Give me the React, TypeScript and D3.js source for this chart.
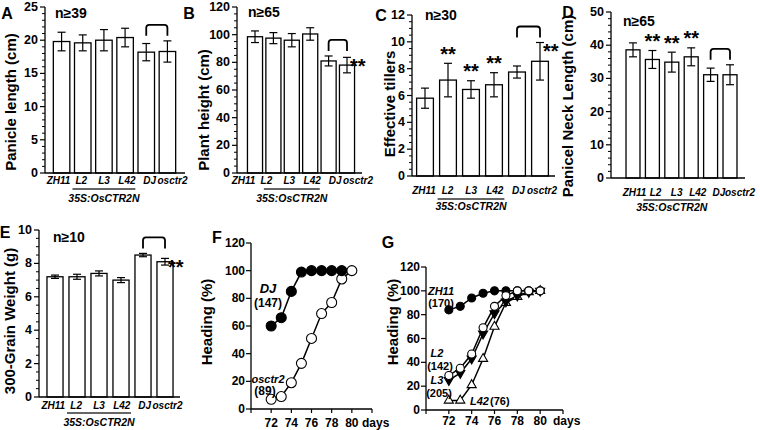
import React from "react";
import * as d3 from "d3";

// ---------------- DATA ----------------
const categories = ["ZH11", "L2", "L3", "L42", "DJ", "osctr2"];
const constructLabel = "35S:OsCTR2N";

const panicleLength = [19.8, 19.6, 20.0, 20.4, 18.2, 18.3];
const panicleLengthSd = [1.4, 1.2, 1.6, 1.4, 1.3, 1.6];
const plantHeight = [98.5, 97.5, 96.0, 100.5, 81.0, 78.0];
const plantHeightSd = [4.2, 4.0, 4.8, 4.5, 3.6, 5.6];
const effectiveTillers = [5.8, 7.15, 6.45, 6.8, 7.75, 8.55];
const effectiveTillersSd = [0.75, 1.25, 0.65, 0.9, 0.45, 1.4];
const neckLength = [38.6, 35.7, 34.9, 36.5, 31.1, 31.1];
const neckLengthSd = [2.1, 2.7, 3.0, 2.7, 2.0, 3.0];
const grainWeight = [7.2, 7.2, 7.4, 7.0, 8.5, 8.1];
const grainWeightSd = [0.1, 0.15, 0.15, 0.15, 0.1, 0.2];

const headingDaysF_DJ = [72, 73, 74, 75, 76, 77, 78, 79];
const headingDJ = [60, 66, 85, 99, 100, 100, 100, 100];
const headingDays = [72, 73, 74, 75, 76, 77, 78, 79, 80];
const headingOsctr2 = [7, 9, 19, 33, 51, 69, 77, 94, 100];
const headingZH11 = [84, 87, 94, 98, 100, 100, 100, 100, 100];
const headingL2 = [29, 35, 47, 69, 87, 96, 100, 100, 100];
const headingL3 = [25, 31, 43, 64, 81, 91, 96, 99, 100];
const headingL42 = [8, 8, 21, 43, 70, 90, 95, 99, 100];
const dayTicks = [72, 74, 76, 78, 80];
const dayMinorTicks = [70, 72, 74, 76, 78, 80, 82];
const headingTicks = [0, 20, 40, 60, 80, 100, 120];

// ---------------- LAYOUT ----------------
const FONT = "'Liberation Sans', Arial, Helvetica, sans-serif";

type BarCfg = {
  letter: string; letterPos: [number, number];
  title: string; titlePos: [number, number];
  n: string; nPos: [number, number];
  values: number[]; errs: number[];
  yMax: number; major: number; minor: number;
  axisX: number; axisEnd: number; band: [number, number]; pad: number;
  labelSpan: [number, number];
  yTop: number; yBot: number;
  labelY: number; underlineY: number; groupY: number;
  starsAbove: string[]; starsSide: string[];
};

const panels: BarCfg[] = [
  {
    letter: "A", letterPos: [7, 13], title: "Panicle length (cm)", titlePos: [10, 102],
    n: "n≥39", nPos: [55, 13], values: panicleLength, errs: panicleLengthSd,
    yMax: 25, major: 5, minor: 1, axisX: 45, axisEnd: 185, band: [51, 178], pad: 0.22,
    labelSpan: [58.5, 172.5],
    yTop: 7, yBot: 173, labelY: 180, underlineY: 189, groupY: 198,
    starsAbove: [], starsSide: [],
  },
  {
    letter: "B", letterPos: [189, 13], title: "Plant height (cm)", titlePos: [203, 110],
    n: "n≥65", nPos: [248, 12], values: plantHeight, errs: plantHeightSd,
    yMax: 120, major: 20, minor: 5, axisX: 237, axisEnd: 362, band: [245.8, 356.2], pad: 0.18,
    labelSpan: [243.5, 358],
    yTop: 7, yBot: 173, labelY: 180, underlineY: 189, groupY: 198,
    starsAbove: [], starsSide: ["osctr2"],
  },
  {
    letter: "C", letterPos: [381, 15], title: "Effective tillers", titlePos: [389, 104],
    n: "n≥30", nPos: [425, 15], values: effectiveTillers, errs: effectiveTillersSd,
    yMax: 12, major: 2, minor: 0.5, axisX: 412, axisEnd: 555, band: [413.5, 551.5], pad: 0.27,
    labelSpan: [424, 542],
    yTop: 15, yBot: 176, labelY: 190, underlineY: 199, groupY: 206,
    starsAbove: ["L2", "L3", "L42"], starsSide: ["osctr2"],
  },
  {
    letter: "D", letterPos: [568, 12], title: "Panicel Neck Length (cm)", titlePos: [567, 106],
    n: "n≥65", nPos: [623, 21], values: neckLength, errs: neckLengthSd,
    yMax: 50, major: 10, minor: 2, axisX: 611, axisEnd: 745, band: [623.3, 739.7], pad: 0.28,
    labelSpan: [634.5, 740],
    yTop: 12, yBot: 178, labelY: 192, underlineY: 200, groupY: 207,
    starsAbove: ["L2", "L3", "L42"], starsSide: [],
  },
  {
    letter: "E", letterPos: [5, 232], title: "300-Grain Weight (g)", titlePos: [9, 321],
    n: "n≥10", nPos: [53, 237], values: grainWeight, errs: grainWeightSd,
    yMax: 10, major: 2, minor: 0.5, axisX: 39, axisEnd: 180, band: [44, 176], pad: 0.27,
    labelSpan: [53.3, 167.5],
    yTop: 230, yBot: 397, labelY: 405.5, underlineY: 413, groupY: 421.5,
    starsAbove: [], starsSide: ["osctr2"],
  },
];

const STAR_FS = 20;

function BarPanel({ cfg }: { cfg: BarCfg }) {
  const y = d3.scaleLinear().domain([0, cfg.yMax]).range([cfg.yBot, cfg.yTop]);
  const x = d3.scaleBand<string>().domain(categories).range(cfg.band)
    .paddingInner(cfg.pad).paddingOuter(cfg.pad / 2);
  const lx = d3.scalePoint<string>().domain(categories).range(cfg.labelSpan);
  const bw = x.bandwidth();
  const cx = (c: string) => (x(c) as number) + bw / 2;
  const majors = d3.range(0, cfg.yMax + 1e-9, cfg.major);
  const minors = d3.range(0, cfg.yMax + 1e-9, cfg.minor)
    .filter((v) => Math.abs(v / cfg.major - Math.round(v / cfg.major)) > 1e-6);
  const errTop = (i: number) => y(cfg.values[i] + cfg.errs[i]);
  const iDJ = categories.indexOf("DJ");
  const iOs = categories.indexOf("osctr2");
  const legBottom = Math.min(errTop(iDJ), errTop(iOs)) - 5;
  const bTop = legBottom - 11;
  const x1 = cx("DJ"), x2 = cx("osctr2"), r = 3;
  const bracket = `M${x1},${legBottom} V${bTop + r} Q${x1},${bTop} ${x1 + r},${bTop} H${x2 - r} Q${x2},${bTop} ${x2},${bTop + r} V${legBottom}`;
  const ulStart = (x("L2") as number) - 2;
  const ulEnd = (x("L42") as number) + bw + 2;
  const capW = 4;
  return (
    <g>
      <text x={cfg.letterPos[0]} y={cfg.letterPos[1]} fontSize={16} fontWeight="bold" textAnchor="middle" dominantBaseline="central">{cfg.letter}</text>
      <text transform={`translate(${cfg.titlePos[0]},${cfg.titlePos[1]}) rotate(-90)`} fontSize={15} fontWeight="bold" textAnchor="middle" dominantBaseline="central">{cfg.title}</text>
      <text x={cfg.nPos[0]} y={cfg.nPos[1]} fontSize={14} fontWeight="bold" dominantBaseline="central">{cfg.n}</text>
      {categories.map((c, i) => (
        <rect key={c} x={x(c)} y={y(cfg.values[i])} width={bw} height={cfg.yBot - y(cfg.values[i])}
          fill="#fff" stroke="#000" strokeWidth={1.3} />
      ))}
      {categories.map((c, i) => {
        const t = y(cfg.values[i] + cfg.errs[i]);
        const b = y(cfg.values[i] - cfg.errs[i]);
        const m = cx(c);
        return (
          <g key={"e" + c} stroke="#000" strokeWidth={1.2}>
            <line x1={m} x2={m} y1={t} y2={b} />
            <line x1={m - capW} x2={m + capW} y1={t} y2={t} />
            <line x1={m - capW} x2={m + capW} y1={b} y2={b} />
          </g>
        );
      })}
      <line x1={cfg.axisX} x2={cfg.axisX} y1={cfg.yBot} y2={cfg.yTop} stroke="#000" strokeWidth={1.3} />
      <line x1={cfg.axisX} x2={cfg.axisEnd} y1={cfg.yBot} y2={cfg.yBot} stroke="#000" strokeWidth={1.3} />
      {majors.map((v) => (
        <g key={"M" + v}>
          <line x1={cfg.axisX - 5} x2={cfg.axisX} y1={y(v)} y2={y(v)} stroke="#000" strokeWidth={1.2} />
          <text x={cfg.axisX - 7} y={y(v)} fontSize={12.5} fontWeight="bold" textAnchor="end" dominantBaseline="central">{v}</text>
        </g>
      ))}
      {minors.map((v) => (
        <line key={"m" + v} x1={cfg.axisX - 3} x2={cfg.axisX} y1={y(v)} y2={y(v)} stroke="#000" strokeWidth={1} />
      ))}
      {categories.map((c) => (
        <text key={"l" + c} x={lx(c)} y={cfg.labelY} fontSize={10} fontWeight="bold" fontStyle="italic" textAnchor="middle" dominantBaseline="central">{c}</text>
      ))}
      <line x1={ulStart} x2={ulEnd} y1={cfg.underlineY} y2={cfg.underlineY} stroke="#333" strokeWidth={1.5} />
      <text x={(ulStart + ulEnd) / 2} y={cfg.groupY} fontSize={10.5} fontWeight="bold" fontStyle="italic" textAnchor="middle" dominantBaseline="central">{constructLabel}</text>
      <path d={bracket} fill="none" stroke="#000" strokeWidth={1.8} />
      {cfg.starsAbove.map((c) => {
        const i = categories.indexOf(c);
        const center = errTop(i) - 14;
        return <text key={"s" + c} x={cx(c)} y={center + 0.57 * STAR_FS} fontSize={STAR_FS} fontWeight="bold" textAnchor="middle">**</text>;
      })}
      {cfg.starsSide.map((c) => {
        const i = categories.indexOf(c);
        const center = errTop(i) + 4;
        return <text key={"t" + c} x={cx(c) + 3} y={center + 0.57 * STAR_FS} fontSize={STAR_FS} fontWeight="bold">**</text>;
      })}
    </g>
  );
}

type Series = { days: number[]; vals: number[]; symbol: "circle" | "triDown" | "triUp"; filled: boolean };
type LineCfg = {
  letter: string; letterPos: [number, number]; titlePos: [number, number];
  xRange: [number, number]; yRange: [number, number]; tickLabelY: number; daysX: number;
  r: number; triSize: number; series: Series[];
  labels: { text: string; x: number; y: number; italic: boolean; fs: number; anchor?: string }[];
};

const lineF: LineCfg = {
  letter: "F", letterPos: [217, 237], titlePos: [206, 322],
  xRange: [251, 372], yRange: [409, 243], tickLabelY: 423, daysX: 362, r: 5, triSize: 40,
  series: [
    { days: headingDays, vals: headingOsctr2, symbol: "circle", filled: false },
    { days: headingDaysF_DJ, vals: headingDJ, symbol: "circle", filled: true },
  ],
  labels: [
    { text: "DJ", x: 268, y: 288, italic: true, fs: 13 },
    { text: "(147)", x: 268, y: 303, italic: false, fs: 12 },
    { text: "osctr2", x: 268, y: 379, italic: true, fs: 11 },
    { text: "(89)", x: 265, y: 391, italic: false, fs: 12 },
  ],
};

const lineG: LineCfg = {
  letter: "G", letterPos: [388, 242], titlePos: [392, 322],
  xRange: [426, 563], yRange: [410, 267], tickLabelY: 421, daysX: 553, r: 4, triSize: 36,
  series: [
    { days: headingDays, vals: headingZH11, symbol: "circle", filled: true },
    { days: headingDays, vals: headingL42, symbol: "triUp", filled: false },
    { days: headingDays, vals: headingL3, symbol: "triDown", filled: true },
    { days: headingDays, vals: headingL2, symbol: "circle", filled: false },
  ],
  labels: [
    { text: "ZH11", x: 441, y: 291, italic: true, fs: 11 },
    { text: "(170)", x: 441, y: 303, italic: false, fs: 11 },
    { text: "L2", x: 437, y: 353, italic: true, fs: 11 },
    { text: "(142)", x: 440, y: 366, italic: false, fs: 11 },
    { text: "L3", x: 437, y: 380, italic: true, fs: 11 },
    { text: "(205)", x: 439, y: 393, italic: false, fs: 11 },
    { text: "L42", x: 470, y: 401, italic: true, fs: 11, anchor: "start" },
    { text: "(76)", x: 490, y: 401, italic: false, fs: 11, anchor: "start" },
  ],
};

function LinePanel({ cfg }: { cfg: LineCfg }) {
  const x = d3.scaleLinear().domain([70, 82]).range(cfg.xRange);
  const y = d3.scaleLinear().domain([0, 120]).range(cfg.yRange);
  const line = d3.line<[number, number]>().x((d) => x(d[0])).y((d) => y(d[1]));
  const axisX = cfg.xRange[0];
  const yBot = cfg.yRange[0];
  const circle = d3.symbol().type(d3.symbolCircle).size(Math.PI * cfg.r * cfg.r)();
  const tri = d3.symbol().type(d3.symbolTriangle).size(cfg.triSize)();
  return (
    <g>
      <text x={cfg.letterPos[0]} y={cfg.letterPos[1]} fontSize={16} fontWeight="bold" textAnchor="middle" dominantBaseline="central">{cfg.letter}</text>
      <text transform={`translate(${cfg.titlePos[0]},${cfg.titlePos[1]}) rotate(-90)`} fontSize={15} fontWeight="bold" textAnchor="middle" dominantBaseline="central">{"Heading  (%)"}</text>
      <line x1={axisX} x2={axisX} y1={yBot} y2={cfg.yRange[1]} stroke="#000" strokeWidth={1.3} />
      <line x1={axisX} x2={cfg.xRange[1]} y1={yBot} y2={yBot} stroke="#000" strokeWidth={1.3} />
      {headingTicks.map((v) => (
        <g key={"y" + v}>
          <line x1={axisX - 5} x2={axisX} y1={y(v)} y2={y(v)} stroke="#000" strokeWidth={1.2} />
          <text x={axisX - 6} y={y(v)} fontSize={12} fontWeight="bold" textAnchor="end" dominantBaseline="central">{v}</text>
        </g>
      ))}
      {dayMinorTicks.map((d) => (
        <line key={"t" + d} x1={x(d)} x2={x(d)} y1={yBot} y2={yBot + 4} stroke="#000" strokeWidth={1.2} />
      ))}
      {dayTicks.map((d) => (
        <text key={"d" + d} x={x(d)} y={cfg.tickLabelY} fontSize={12} fontWeight="bold" textAnchor="middle" dominantBaseline="central">{d}</text>
      ))}
      <text x={cfg.daysX} y={cfg.tickLabelY} fontSize={12} fontWeight="bold" dominantBaseline="central">days</text>
      {cfg.series.map((s, k) => (
        <path key={"p" + k} d={line(s.days.map((d, i) => [d, s.vals[i]] as [number, number])) || ""} fill="none" stroke="#000" strokeWidth={1.5} />
      ))}
      {cfg.series.map((s, k) => (
        <g key={"g" + k}>
          {s.days.map((d, i) => {
            const path = s.symbol === "circle" ? circle : tri;
            const rot = s.symbol === "triDown" ? 180 : 0;
            return (
              <path key={i} d={path || ""} transform={`translate(${x(d)},${y(s.vals[i])}) rotate(${rot})`}
                fill={s.filled ? "#000" : "#fff"} stroke="#000" strokeWidth={1.1} />
            );
          })}
        </g>
      ))}
      {cfg.labels.map((l, i) => (
        <text key={"L" + i} x={l.x} y={l.y} fontSize={l.fs} fontWeight="bold"
          fontStyle={l.italic ? "italic" : "normal"} textAnchor={l.anchor || "middle"} dominantBaseline="central">{l.text}</text>
      ))}
    </g>
  );
}

export default function App() {
  return (
    <svg width={760} height={430} viewBox="0 0 760 430"
      style={{ position: "absolute", left: 0, top: 0, background: "#fff", fontFamily: FONT }}>
      <rect width={760} height={430} fill="#fff" />
      {panels.map((p) => <BarPanel key={p.letter} cfg={p} />)}
      <LinePanel cfg={lineF} />
      <LinePanel cfg={lineG} />
    </svg>
  );
}
